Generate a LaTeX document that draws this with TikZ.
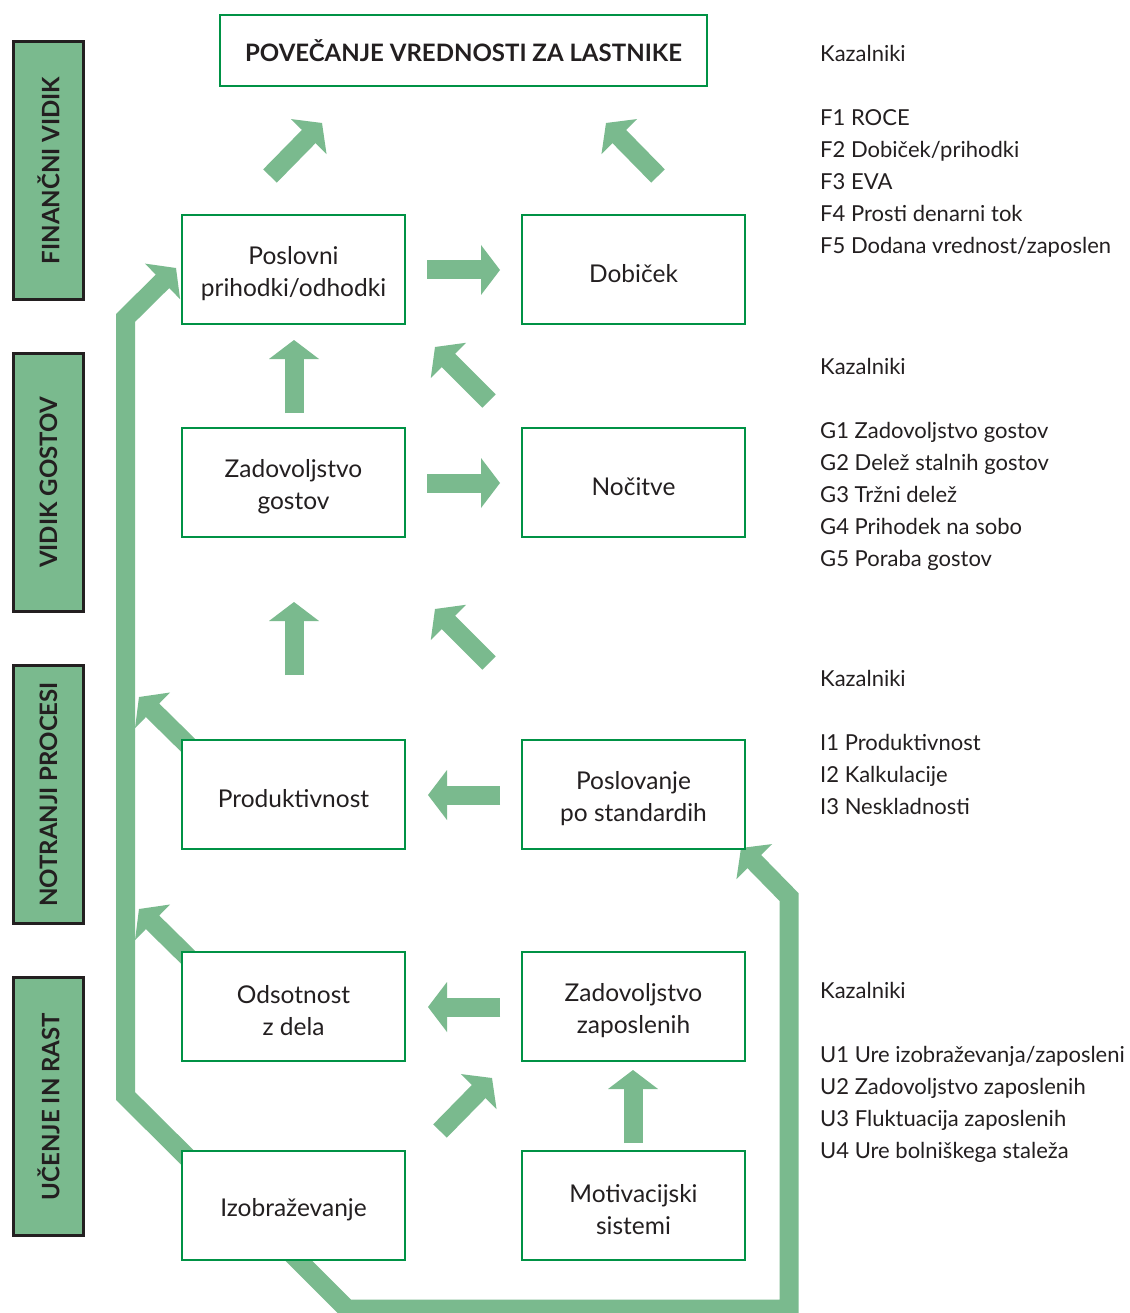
\documentclass[tikz,border=0pt]{standalone}
\usepackage{fontspec}
\setmainfont{Lato}
\usetikzlibrary{calc}
\definecolor{ag}{HTML}{7ABA8E}
\definecolor{bg}{HTML}{009245}
\definecolor{tx}{HTML}{231F20}
\newcommand\arrowhead[2]{%
  \coordinate (hb) at ($(#2)!19pt!(#1)$);
  \fill[ag] (#2) -- ($(hb)!25pt!90:(#2)$) -- ($(hb)!25pt!-90:(#2)$) -- cycle;}
\newcommand\blockarrow[2]{%
  \draw[ag, line width=19pt] (#1) -- ($(#2)!18pt!(#1)$);
  \arrowhead{#1}{#2}}
\tikzset{
  box/.style={draw=bg, line width=2.5pt, fill=white, minimum width=223pt, minimum height=109pt,
    inner sep=0pt},
  lab/.style={align=center, text=tx, font=\fontsize{24.5}{32}\selectfont, inner sep=0pt, yshift=-4pt},
  side/.style={draw=tx, line width=3pt, fill=ag, minimum width=258pt, minimum height=70pt,
    rotate=90, text=tx, font=\bfseries\fontsize{24}{28}\selectfont, inner sep=0pt},
  kz/.style={anchor=base west, text=tx, font=\fontsize{22}{26}\selectfont, inner sep=0pt},
  band/.style={ag, line width=19pt, line join=miter}
}
\begin{document}
\begin{tikzpicture}[x=1pt,y=-1pt]
\fill[white] (0,0) rectangle (1129,1313);
\useasboundingbox (0,0) rectangle (1129,1313);
% arrow coordinates
\coordinate (a1s) at (270,176); \coordinate (a1t) at (322,123);
\coordinate (a2s) at (658,176); \coordinate (a2t) at (606,123);
\coordinate (a3s) at (427,270); \coordinate (a3t) at (500,270);
\coordinate (a4s) at (294,413); \coordinate (a4t) at (294,340);
\coordinate (a5s) at (489,401); \coordinate (a5t) at (435,347);
\coordinate (a6s) at (427,483); \coordinate (a6t) at (500,483);
\coordinate (a7s) at (294,675); \coordinate (a7t) at (294,602);
\coordinate (a8s) at (489,663); \coordinate (a8t) at (435,609);
\coordinate (a9s) at (500,795); \coordinate (a9t) at (428,795);
\coordinate (a10s) at (200,757); \coordinate (a10t) at (139,697);
\coordinate (a11s) at (500,1007); \coordinate (a11t) at (428,1007);
\coordinate (a12s) at (200,969); \coordinate (a12t) at (139,909);
\coordinate (a13s) at (440,1131); \coordinate (a13t) at (492,1078);
\coordinate (a14s) at (633,1143); \coordinate (a14t) at (633,1070);
\foreach \i in {1,...,14}{\blockarrow{a\i s}{a\i t}}
% left band
\coordinate (l1) at (195,1165); \coordinate (l2) at (125.5,1096);
\coordinate (l3) at (125.5,318); \coordinate (lt) at (176,268);
\draw[band] (l1) -- (l2) -- (l3) -- ($(lt)!18pt!(l3)$);
\arrowhead{l3}{lt}
% right band
\coordinate (r1) at (290,1252); \coordinate (r2) at (347,1309);
\coordinate (r3) at (789,1309); \coordinate (r4) at (789,897);
\coordinate (rt) at (741,848);
\draw[band] (r1) -- (r2) -- (r3) -- (r4) -- ($(rt)!18pt!(r4)$);
\arrowhead{r4}{rt}
% title
\node[draw=bg, line width=2.5pt, fill=white, minimum width=487pt, minimum height=71pt, inner sep=0pt,
  text=tx, font=\bfseries\fontsize{24}{28}\selectfont] (title) at (463.5,50.5) {POVEČANJE VREDNOSTI ZA LASTNIKE};
% boxes
\node[box, label={[lab]center:{Poslovni\\prihodki/odhodki}}] (pp) at (293.5,269.5) {};
\node[box, label={[lab]center:{Dobiček}}] (dob) at (633.5,269.5) {};
\node[box, label={[lab]center:{Zadovoljstvo\\gostov}}] (zg) at (293.5,482.5) {};
\node[box, label={[lab]center:{Nočitve}}] (noc) at (633.5,482.5) {};
\node[box, label={[lab]center:{Produktivnost}}] (prod) at (293.5,794.5) {};
\node[box, label={[lab]center:{Poslovanje\\po standardih}}] (pos) at (633.5,794.5) {};
\node[box, label={[lab]center:{Odsotnost\\z dela}}] (ods) at (293.5,1006.5) {};
\node[box, label={[lab]center:{Zadovoljstvo\\zaposlenih}}] (zz) at (633.5,1006.5) {};
\node[box, label={[lab]center:{Izobraževanje}}] (izo) at (293.5,1205.5) {};
\node[box, label={[lab]center:{Motivacijski\\sistemi}}] (mot) at (633.5,1205.5) {};
% side bars
\node[side] (s1) at (48.5,170.5) {FINANČNI VIDIK};
\node[side] (s2) at (48.5,482.5) {VIDIK GOSTOV};
\node[side] (s3) at (48.5,794.5) {NOTRANJI PROCESI};
\node[side] (s4) at (48.5,1106.5) {UČENJE IN RAST};
% indicators
\node[kz] (k1) at (820,62) {Kazalniki};
\node[kz] (f1) at (820,126) {F1 ROCE};
\node[kz] (f2) at (820,158) {F2 Dobiček/prihodki};
\node[kz] (f3) at (820,190) {F3 EVA};
\node[kz] (f4) at (820,222) {F4 Prosti denarni tok};
\node[kz] (f5) at (820,254) {F5 Dodana vrednost/zaposlen};
\node[kz] (k2) at (820,374) {Kazalniki};
\node[kz] (g1) at (820,438) {G1 Zadovoljstvo gostov};
\node[kz] (g2) at (820,470) {G2 Delež stalnih gostov};
\node[kz] (g3) at (820,502) {G3 Tržni delež};
\node[kz] (g4) at (820,534) {G4 Prihodek na sobo};
\node[kz] (g5) at (820,566) {G5 Poraba gostov};
\node[kz] (k3) at (820,686) {Kazalniki};
\node[kz] (i1) at (820,750) {I1 Produktivnost};
\node[kz] (i2) at (820,782) {I2 Kalkulacije};
\node[kz] (i3) at (820,814) {I3 Neskladnosti};
\node[kz] (k4) at (820,998) {Kazalniki};
\node[kz] (u1) at (820,1062) {U1 Ure izobraževanja/zaposleni};
\node[kz] (u2) at (820,1094) {U2 Zadovoljstvo zaposlenih};
\node[kz] (u3) at (820,1126) {U3 Fluktuacija zaposlenih};
\node[kz] (u4) at (820,1158) {U4 Ure bolniškega staleža};
\end{tikzpicture}
\end{document}
